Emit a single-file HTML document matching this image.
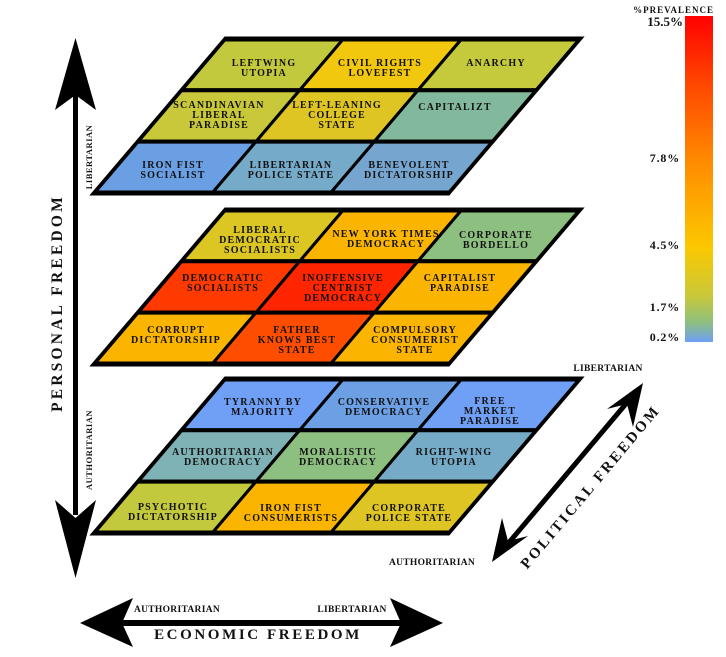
<!DOCTYPE html>
<html><head><meta charset="utf-8"><style>
html,body{margin:0;padding:0;background:#fff;width:726px;height:657px;overflow:hidden}
svg text{font-family:"Liberation Serif",serif;font-weight:bold;fill:#111}
.c{font-size:10px;letter-spacing:1.2px;text-anchor:middle}
</style></head><body>
<svg width="726" height="657" viewBox="0 0 726 657" xmlns="http://www.w3.org/2000/svg">
<defs>
<linearGradient id="lg" x1="0" y1="1" x2="0" y2="0">
<stop offset="0" stop-color="#6f9ff5"/>
<stop offset="0.06" stop-color="#8dc080"/>
<stop offset="0.14" stop-color="#c8c83a"/>
<stop offset="0.29" stop-color="#fcc800"/>
<stop offset="0.55" stop-color="#ff8c00"/>
<stop offset="0.8" stop-color="#ff4400"/>
<stop offset="1" stop-color="#ff0000"/>
</linearGradient>
</defs>

<g stroke="#000" stroke-width="4">
<g transform="translate(225,39) skewX(-40.4)">
<rect x="0" y="0" width="118.3" height="51.3" fill="#c3c93c"/>
<rect x="118.3" y="0" width="118.3" height="51.3" fill="#f2c80f"/>
<rect x="236.6" y="0" width="118.3" height="51.3" fill="#c5c93c"/>
<rect x="0" y="51.3" width="118.3" height="51.3" fill="#c8c83a"/>
<rect x="118.3" y="51.3" width="118.3" height="51.3" fill="#dfc523"/>
<rect x="236.6" y="51.3" width="118.3" height="51.3" fill="#82b89c"/>
<rect x="0" y="102.6" width="118.3" height="51.3" fill="#6b9fe3"/>
<rect x="118.3" y="102.6" width="118.3" height="51.3" fill="#75aac8"/>
<rect x="236.6" y="102.6" width="118.3" height="51.3" fill="#76a6cf"/>
<rect x="0" y="0" width="355" height="154" fill="none" stroke-width="5"/>
</g>
<g transform="translate(225,210) skewX(-40.4)">
<rect x="0" y="0" width="118.3" height="51.3" fill="#dcc624"/>
<rect x="118.3" y="0" width="118.3" height="51.3" fill="#fbb400"/>
<rect x="236.6" y="0" width="118.3" height="51.3" fill="#8dc080"/>
<rect x="0" y="51.3" width="118.3" height="51.3" fill="#ff3a00"/>
<rect x="118.3" y="51.3" width="118.3" height="51.3" fill="#ff2500"/>
<rect x="236.6" y="51.3" width="118.3" height="51.3" fill="#fbb400"/>
<rect x="0" y="102.6" width="118.3" height="51.3" fill="#fbb400"/>
<rect x="118.3" y="102.6" width="118.3" height="51.3" fill="#ff4d00"/>
<rect x="236.6" y="102.6" width="118.3" height="51.3" fill="#fbb400"/>
<rect x="0" y="0" width="355" height="154" fill="none" stroke-width="5"/>
</g>
<g transform="translate(225,379) skewX(-40.4)">
<rect x="0" y="0" width="118.3" height="51.3" fill="#6fa0f5"/>
<rect x="118.3" y="0" width="118.3" height="51.3" fill="#6c9fe3"/>
<rect x="236.6" y="0" width="118.3" height="51.3" fill="#6fa0f5"/>
<rect x="0" y="51.3" width="118.3" height="51.3" fill="#7fb2b5"/>
<rect x="118.3" y="51.3" width="118.3" height="51.3" fill="#8dc080"/>
<rect x="236.6" y="51.3" width="118.3" height="51.3" fill="#76abc8"/>
<rect x="0" y="102.6" width="118.3" height="51.3" fill="#c3c93c"/>
<rect x="118.3" y="102.6" width="118.3" height="51.3" fill="#fbb400"/>
<rect x="236.6" y="102.6" width="118.3" height="51.3" fill="#dfc523"/>
<rect x="0" y="0" width="355" height="154" fill="none" stroke-width="5"/>
</g>
</g>

<text class="c"><tspan x="264" y="66">LEFTWING</tspan><tspan x="264" y="76">UTOPIA</tspan></text>
<text class="c"><tspan x="380" y="66">CIVIL RIGHTS</tspan><tspan x="380" y="76">LOVEFEST</tspan></text>
<text class="c"><tspan x="496" y="66">ANARCHY</tspan></text>
<text class="c"><tspan x="219" y="108">SCANDINAVIAN</tspan><tspan x="219" y="118">LIBERAL</tspan><tspan x="219" y="128">PARADISE</tspan></text>
<text class="c"><tspan x="337" y="108">LEFT-LEANING</tspan><tspan x="337" y="118">COLLEGE</tspan><tspan x="337" y="128">STATE</tspan></text>
<text class="c"><tspan x="455" y="110">CAPITALIZT</tspan></text>
<text class="c"><tspan x="173" y="168">IRON FIST</tspan><tspan x="173" y="178">SOCIALIST</tspan></text>
<text class="c"><tspan x="291" y="168">LIBERTARIAN</tspan><tspan x="291" y="178">POLICE STATE</tspan></text>
<text class="c"><tspan x="409" y="168">BENEVOLENT</tspan><tspan x="409" y="178">DICTATORSHIP</tspan></text>

<text class="c"><tspan x="260" y="233">LIBERAL</tspan><tspan x="260" y="243">DEMOCRATIC</tspan><tspan x="260" y="253">SOCIALISTS</tspan></text>
<text class="c"><tspan x="386" y="237">NEW YORK TIMES</tspan><tspan x="386" y="247">DEMOCRACY</tspan></text>
<text class="c"><tspan x="496" y="238">CORPORATE</tspan><tspan x="496" y="248">BORDELLO</tspan></text>
<text class="c"><tspan x="223" y="281">DEMOCRATIC</tspan><tspan x="223" y="291">SOCIALISTS</tspan></text>
<text class="c"><tspan x="343" y="281">INOFFENSIVE</tspan><tspan x="343" y="291">CENTRIST</tspan><tspan x="343" y="301">DEMOCRACY</tspan></text>
<text class="c"><tspan x="460" y="281">CAPITALIST</tspan><tspan x="460" y="291">PARADISE</tspan></text>
<text class="c"><tspan x="176" y="333">CORRUPT</tspan><tspan x="176" y="343">DICTATORSHIP</tspan></text>
<text class="c"><tspan x="297" y="333">FATHER</tspan><tspan x="297" y="343">KNOWS BEST</tspan><tspan x="297" y="353">STATE</tspan></text>
<text class="c"><tspan x="415" y="333">COMPULSORY</tspan><tspan x="415" y="343">CONSUMERIST</tspan><tspan x="415" y="353">STATE</tspan></text>

<text class="c"><tspan x="263" y="405">TYRANNY BY</tspan><tspan x="263" y="415">MAJORITY</tspan></text>
<text class="c"><tspan x="384" y="405">CONSERVATIVE</tspan><tspan x="384" y="415">DEMOCRACY</tspan></text>
<text class="c"><tspan x="490" y="404">FREE</tspan><tspan x="490" y="414">MARKET</tspan><tspan x="490" y="424">PARADISE</tspan></text>
<text class="c"><tspan x="223" y="455">AUTHORITARIAN</tspan><tspan x="223" y="465">DEMOCRACY</tspan></text>
<text class="c"><tspan x="338" y="455">MORALISTIC</tspan><tspan x="338" y="465">DEMOCRACY</tspan></text>
<text class="c"><tspan x="454" y="455">RIGHT-WING</tspan><tspan x="454" y="465">UTOPIA</tspan></text>
<text class="c"><tspan x="173" y="510">PSYCHOTIC</tspan><tspan x="173" y="520">DICTATORSHIP</tspan></text>
<text class="c"><tspan x="291" y="511">IRON FIST</tspan><tspan x="291" y="521">CONSUMERISTS</tspan></text>
<text class="c"><tspan x="409" y="511">CORPORATE</tspan><tspan x="409" y="521">POLICE STATE</tspan></text>

<rect x="73" y="95" width="5" height="420" fill="#000"/>
<polygon points="75.5,38 96,110 75.5,95 55,110" fill="#000"/>
<polygon points="75.5,578 96,500 75.5,518 55,500" fill="#000"/>
<text transform="translate(62,303) rotate(-90)" style="font-size:15.5px;letter-spacing:3.2px;text-anchor:middle">PERSONAL FREEDOM</text>
<text transform="translate(92,157) rotate(-90)" style="font-size:8.5px;letter-spacing:0.5px;text-anchor:middle">LIBERTARIAN</text>
<text transform="translate(92,450) rotate(-90)" style="font-size:8.5px;letter-spacing:0.5px;text-anchor:middle">AUTHORITARIAN</text>

<rect x="120" y="620" width="285" height="6" fill="#000"/>
<polygon points="80,623 133,598 122,623 133,647" fill="#000"/>
<polygon points="443,623 390,598 401,623 390,647" fill="#000"/>
<text x="177" y="612" style="font-size:9.5px;text-anchor:middle;letter-spacing:0.3px">AUTHORITARIAN</text>
<text x="352" y="612" style="font-size:9.5px;text-anchor:middle;letter-spacing:0.3px">LIBERTARIAN</text>
<text x="258" y="639" style="font-size:15px;letter-spacing:2.6px;text-anchor:middle">ECONOMIC FREEDOM</text>

<line x1="506" y1="546" x2="630" y2="399" stroke="#000" stroke-width="5"/>
<polygon points="643,383 633,427 627,404 607,409" fill="#000"/>
<polygon points="492,562 502,518 508,541 528,536" fill="#000"/>
<text transform="translate(594,490) rotate(-50)" style="font-size:15px;letter-spacing:2.6px;text-anchor:middle">POLITICAL FREEDOM</text>
<text x="608" y="371" style="font-size:9.5px;text-anchor:middle;letter-spacing:0.3px">LIBERTARIAN</text>
<text x="432" y="565" style="font-size:9.5px;text-anchor:middle;letter-spacing:0.3px">AUTHORITARIAN</text>

<rect x="685" y="16" width="28" height="326" fill="url(#lg)"/>
<text x="714" y="13" style="font-size:9px;text-anchor:end;letter-spacing:1px">%PREVALENCE</text>
<text x="683" y="26" style="font-size:13px;text-anchor:end">15.5%</text>
<text x="680" y="162" style="font-size:12px;text-anchor:end;letter-spacing:0.8px">7.8%</text>
<text x="680" y="249" style="font-size:12px;text-anchor:end;letter-spacing:0.8px">4.5%</text>
<text x="680" y="311" style="font-size:12px;text-anchor:end;letter-spacing:0.8px">1.7%</text>
<text x="680" y="341" style="font-size:12px;text-anchor:end;letter-spacing:0.8px">0.2%</text>
</svg>
</body></html>
